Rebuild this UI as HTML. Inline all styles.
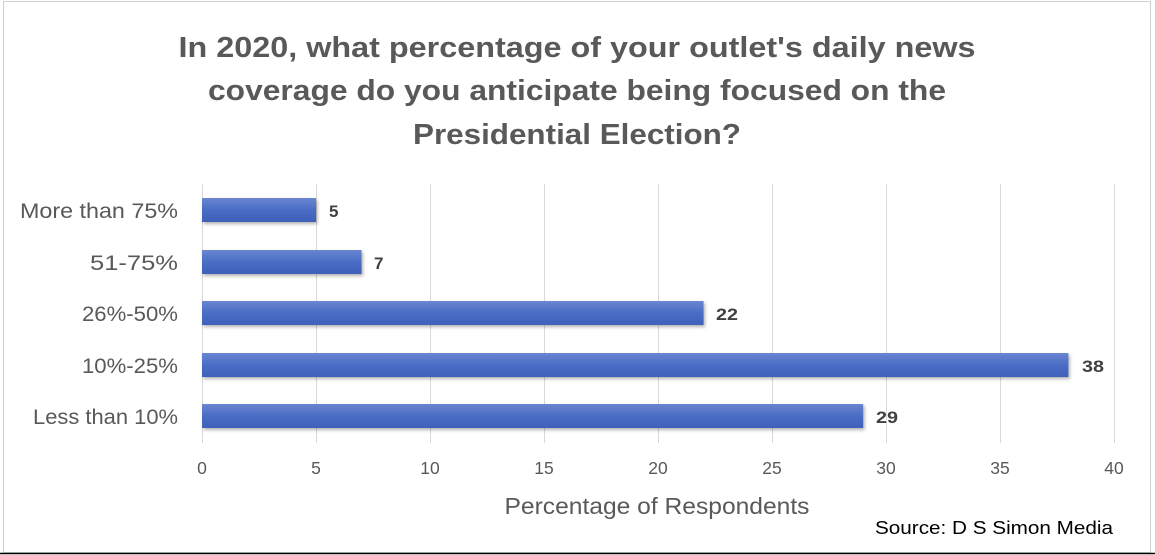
<!DOCTYPE html>
<html><head><meta charset="utf-8"><style>
html,body{margin:0;padding:0;background:#fff;}
svg{display:block;}
text{font-family:"Liberation Sans",sans-serif;}
</style></head><body>
<svg width="1155" height="555" viewBox="0 0 1155 555">
<defs>
<linearGradient id="g" x1="0" y1="0" x2="0" y2="1">
<stop offset="0" stop-color="#6a86d0"/><stop offset="0.5" stop-color="#4a6cc4"/><stop offset="1" stop-color="#3f60b8"/>
</linearGradient>
<filter id="s" x="-5%" y="-30%" width="110%" height="170%"><feDropShadow dx="1.5" dy="2" stdDeviation="1.5" flood-color="#000" flood-opacity="0.3"/></filter>
</defs>
<rect x="3.5" y="1.5" width="1147" height="551" fill="#fff" stroke="#d0d0d0"/>
<line x1="0" y1="553.5" x2="1155" y2="553.5" stroke="#000" stroke-width="1.5"/>
<g fill="#595959" font-weight="bold" font-size="29" text-anchor="middle">
<text x="577" y="57" textLength="797" lengthAdjust="spacingAndGlyphs">In 2020, what percentage of your outlet's daily news</text>
<text x="577" y="100" textLength="738" lengthAdjust="spacingAndGlyphs">coverage do you anticipate being focused on the</text>
<text x="577" y="144" textLength="328" lengthAdjust="spacingAndGlyphs">Presidential Election?</text>
</g>
<g stroke="#d9d9d9" stroke-width="1">
<line x1="202.5" y1="184" x2="202.5" y2="443"/>
<line x1="316.5" y1="184" x2="316.5" y2="443"/>
<line x1="430.5" y1="184" x2="430.5" y2="443"/>
<line x1="544.5" y1="184" x2="544.5" y2="443"/>
<line x1="658.5" y1="184" x2="658.5" y2="443"/>
<line x1="772.5" y1="184" x2="772.5" y2="443"/>
<line x1="886.5" y1="184" x2="886.5" y2="443"/>
<line x1="1000.5" y1="184" x2="1000.5" y2="443"/>
<line x1="1114.5" y1="184" x2="1114.5" y2="443"/>
</g>
<g fill="url(#g)" filter="url(#s)">
<rect x="202" y="198" width="114" height="24"/>
<rect x="202" y="250" width="159.6" height="24"/>
<rect x="202" y="301" width="501.6" height="24"/>
<rect x="202" y="353" width="866.4" height="24"/>
<rect x="202" y="404" width="661.2" height="24"/>
</g>
<g fill="#404040" font-weight="bold" font-size="17">
<text x="329" y="217">5</text>
<text x="374" y="269">7</text>
<text x="716" y="320" textLength="22" lengthAdjust="spacingAndGlyphs">22</text>
<text x="1082" y="372" textLength="22" lengthAdjust="spacingAndGlyphs">38</text>
<text x="876" y="423" textLength="22" lengthAdjust="spacingAndGlyphs">29</text>
</g>
<g fill="#595959" font-size="21" text-anchor="end">
<text x="178" y="218" textLength="158" lengthAdjust="spacingAndGlyphs">More than 75%</text>
<text x="178" y="270" textLength="88" lengthAdjust="spacingAndGlyphs">51-75%</text>
<text x="178" y="321" textLength="96" lengthAdjust="spacingAndGlyphs">26%-50%</text>
<text x="178" y="373" textLength="96" lengthAdjust="spacingAndGlyphs">10%-25%</text>
<text x="178" y="424" textLength="145" lengthAdjust="spacingAndGlyphs">Less than 10%</text>
</g>
<g fill="#595959" font-size="17.5" text-anchor="middle">
<text x="202" y="474">0</text><text x="316" y="474">5</text><text x="430" y="474">10</text>
<text x="544" y="474">15</text><text x="658" y="474">20</text><text x="772" y="474">25</text>
<text x="886" y="474">30</text><text x="1000" y="474">35</text><text x="1114" y="474">40</text>
</g>
<text x="657" y="514" fill="#595959" font-size="23" text-anchor="middle" textLength="305" lengthAdjust="spacingAndGlyphs">Percentage of Respondents</text>
<text x="875" y="534" fill="#000" font-size="18" textLength="238" lengthAdjust="spacingAndGlyphs">Source: D S Simon Media</text>
</svg>
</body></html>
